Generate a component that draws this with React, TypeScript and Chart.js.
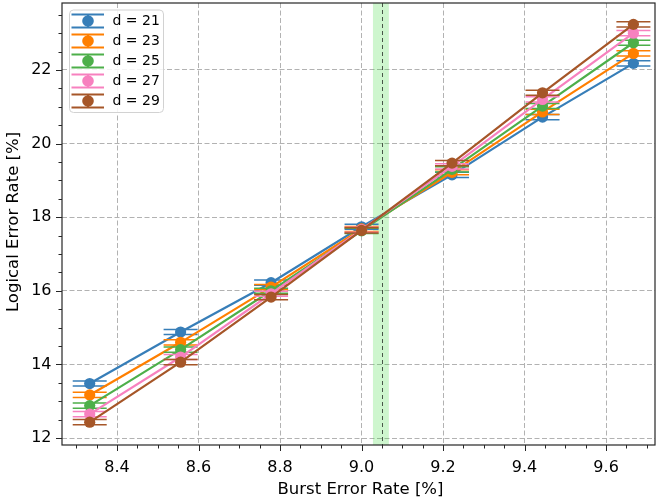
import React, { useEffect, useRef } from "react";
import { Chart, registerables } from "chart.js";

Chart.register(...registerables);

// ---------- data ----------
const burstRates = [8.333, 8.556, 8.778, 9.0, 9.222, 9.444, 9.667];
const distanceLabels = ["d = 21", "d = 23", "d = 25", "d = 27", "d = 29"];
const ler21 = [13.48, 14.88, 16.22, 17.74, 19.15, 20.72, 22.18];
const ler23 = [13.17, 14.6, 16.1, 17.68, 19.22, 20.86, 22.45];
const ler25 = [12.88, 14.4, 16.0, 17.63, 19.3, 21.02, 22.74];
const ler27 = [12.65, 14.2, 15.92, 17.66, 19.38, 21.2, 23.0];
const ler29 = [12.43, 14.06, 15.83, 17.64, 19.47, 21.38, 23.24];
const err21 = [0.07, 0.07, 0.07, 0.07, 0.07, 0.07, 0.07];
const err23 = [0.07, 0.07, 0.07, 0.07, 0.07, 0.07, 0.07];
const err25 = [0.07, 0.07, 0.07, 0.07, 0.07, 0.07, 0.07];
const err27 = [0.07, 0.07, 0.07, 0.07, 0.07, 0.07, 0.07];
const err29 = [0.07, 0.07, 0.07, 0.07, 0.07, 0.07, 0.07];
const seriesColors = ["#377eb8", "#ff7f00", "#4daf4a", "#f781bf", "#a65628"];
const xTickValues = [8.4, 8.6, 8.8, 9.0, 9.2, 9.4, 9.6];
const yTickValues = [12, 14, 16, 18, 20, 22];
const thresholdValue = 9.05;
const thresholdBand = [9.028, 9.067];

const seriesValues = [ler21, ler23, ler25, ler27, ler29];
const seriesErrors = [err21, err23, err25, err27, err29];

const FONT = "'DejaVu Sans', sans-serif";
const X_MIN = 8.265;
const X_MAX = 9.72;
const Y_MIN = 11.81;
const Y_MAX = 23.82;

const decorPlugin = {
  id: "decor",
  beforeDatasetsDraw(chart: any) {
    const { ctx, chartArea: a, scales } = chart;
    const x = scales.x;
    ctx.save();
    const x0 = x.getPixelForValue(thresholdBand[0]);
    const x1 = x.getPixelForValue(thresholdBand[1]);
    ctx.fillStyle = "rgba(60,220,60,0.25)";
    ctx.fillRect(x0, a.top, x1 - x0, a.bottom - a.top);
    const xt = x.getPixelForValue(thresholdValue);
    ctx.strokeStyle = "rgba(0,0,0,0.65)";
    ctx.lineWidth = 1;
    ctx.setLineDash([4, 3]);
    ctx.beginPath();
    ctx.moveTo(Math.round(xt) + 0.5, a.top);
    ctx.lineTo(Math.round(xt) + 0.5, a.bottom);
    ctx.stroke();
    ctx.restore();
  },
  beforeDatasetDraw(chart: any, args: any) {
    const { ctx, scales } = chart;
    const i = args.index;
    const vals = seriesValues[i];
    const errs = seriesErrors[i];
    const color = seriesColors[i];
    ctx.save();
    ctx.strokeStyle = color;
    ctx.lineWidth = 1.5;
    burstRates.forEach((bx, k) => {
      const px = scales.x.getPixelForValue(bx);
      const pTop = scales.y.getPixelForValue(vals[k] + errs[k]);
      const pBot = scales.y.getPixelForValue(vals[k] - errs[k]);
      ctx.beginPath();
      ctx.moveTo(px, pTop);
      ctx.lineTo(px, pBot);
      ctx.moveTo(px - 17, pTop);
      ctx.lineTo(px + 17, pTop);
      ctx.moveTo(px - 17, pBot);
      ctx.lineTo(px + 17, pBot);
      ctx.stroke();
    });
    ctx.restore();
  },
  afterDraw(chart: any) {
    const { ctx, chartArea: a, scales } = chart;
    const x = scales.x;
    const y = scales.y;
    ctx.save();
    // frame
    ctx.strokeStyle = "#262626";
    ctx.lineWidth = 1.2;
    ctx.setLineDash([]);
    ctx.strokeRect(a.left, a.top, a.right - a.left, a.bottom - a.top);
    // ticks
    ctx.lineWidth = 1;
    ctx.beginPath();
    for (let k = 0; k <= 30; k++) {
      const v = 8.25 + k * 0.05;
      if (v < X_MIN || v > X_MAX) continue;
      const major = xTickValues.some((t) => Math.abs(t - v) < 1e-6);
      const px = Math.round(x.getPixelForValue(v)) + 0.5;
      ctx.moveTo(px, a.bottom);
      ctx.lineTo(px, a.bottom + (major ? 6 : 3.5));
    }
    for (let k = 0; k <= 26; k++) {
      const v = 11.5 + k * 0.5;
      if (v < Y_MIN || v > Y_MAX) continue;
      const major = yTickValues.some((t) => Math.abs(t - v) < 1e-6);
      const py = Math.round(y.getPixelForValue(v)) + 0.5;
      ctx.moveTo(a.left, py);
      ctx.lineTo(a.left - (major ? 6 : 3.5), py);
    }
    ctx.stroke();
    // axis titles
    ctx.fillStyle = "#000";
    ctx.font = `16.5px ${FONT}`;
    ctx.textAlign = "center";
    ctx.textBaseline = "middle";
    ctx.fillText("Burst Error Rate [%]", (a.left + a.right) / 2 + 2, 490);
    ctx.save();
    ctx.translate(14, (a.top + a.bottom) / 2 - 2);
    ctx.rotate(-Math.PI / 2);
    ctx.fillText("Logical Error Rate [%]", 0, 0);
    ctx.restore();
    // legend
    const lx = a.left + 7;
    const ly = a.top + 6.5;
    const lw = 94;
    const lh = 102.5;
    ctx.beginPath();
    ctx.roundRect(lx + 0.5, ly + 0.5, lw, lh, 4);
    ctx.fillStyle = "rgba(255,255,255,0.85)";
    ctx.fill();
    ctx.strokeStyle = "#d2d2d2";
    ctx.lineWidth = 1;
    ctx.stroke();
    ctx.font = `14px ${FONT}`;
    ctx.textAlign = "left";
    ctx.textBaseline = "middle";
    distanceLabels.forEach((lab, k) => {
      const cy = ly + 11.5 + k * 20;
      const c = seriesColors[k];
      ctx.strokeStyle = c;
      ctx.lineWidth = 1.8;
      ctx.beginPath();
      ctx.moveTo(lx + 2.5, cy - 6.5);
      ctx.lineTo(lx + 35, cy - 6.5);
      ctx.moveTo(lx + 2.5, cy + 6.5);
      ctx.lineTo(lx + 35, cy + 6.5);
      ctx.moveTo(lx + 19, cy - 6.5);
      ctx.lineTo(lx + 19, cy + 6.5);
      ctx.stroke();
      ctx.fillStyle = c;
      ctx.beginPath();
      ctx.arc(lx + 19, cy, 5.8, 0, Math.PI * 2);
      ctx.fill();
      ctx.fillStyle = "#000";
      ctx.fillText(lab, lx + 43.5, cy + 0.5);
    });
    ctx.restore();
  },
};

export default function App() {
  const canvasRef = useRef<HTMLCanvasElement | null>(null);

  useEffect(() => {
    const canvas = canvasRef.current;
    if (!canvas) return;
    const datasets = seriesValues.map((vals, i) => ({
      label: distanceLabels[i],
      data: burstRates.map((bx, k) => ({ x: bx, y: vals[k] })),
      borderColor: seriesColors[i],
      backgroundColor: seriesColors[i],
      borderWidth: 2.2,
      pointRadius: 5.6,
      pointBorderWidth: 0,
      pointBackgroundColor: seriesColors[i],
      pointHoverRadius: 5.6,
      fill: false,
      tension: 0,
      order: seriesValues.length - 1 - i,
    }));
    const zeroPad = (s: any) => {
      s.paddingTop = 0;
      s.paddingBottom = 0;
      s.paddingLeft = 0;
      s.paddingRight = 0;
    };
    const chart = new Chart(canvas, {
      type: "line",
      data: { datasets },
      plugins: [decorPlugin],
      options: {
        animation: false,
        responsive: false,
        devicePixelRatio: 1,
        layout: { autoPadding: false, padding: { top: 3, right: 1, left: 0, bottom: 0 } },
        plugins: { legend: { display: false }, tooltip: { enabled: false } },
        scales: {
          x: {
            type: "linear",
            min: X_MIN,
            max: X_MAX,
            afterBuildTicks: (s: any) => {
              s.ticks = xTickValues.map((v) => ({ value: v }));
            },
            afterFit: (s: any) => {
              s.height = 59;
              zeroPad(s);
            },
            ticks: {
              autoSkip: false,
              maxRotation: 0,
              padding: 13,
              color: "#000",
              font: { family: FONT, size: 16 },
              callback: (v: any) => Number(v).toFixed(1),
            },
            grid: { color: "rgba(178,178,178,1)", lineWidth: 1, drawTicks: false },
            border: { display: false, dash: [5, 2.5] },
          },
          y: {
            type: "linear",
            min: Y_MIN,
            max: Y_MAX,
            afterBuildTicks: (s: any) => {
              s.ticks = yTickValues.map((v) => ({ value: v }));
            },
            afterFit: (s: any) => {
              s.width = 62;
              zeroPad(s);
            },
            ticks: {
              autoSkip: false,
              padding: 10.5,
              color: "#000",
              font: { family: FONT, size: 16 },
              callback: (v: any) => String(Number(v)),
            },
            grid: { color: "rgba(178,178,178,1)", lineWidth: 1, drawTicks: false },
            border: { display: false, dash: [5, 2.5] },
          },
        },
      },
    });
    return () => chart.destroy();
  }, []);

  return (
    <div style={{ position: "absolute", left: 0, top: 0, width: 656, height: 504, background: "#fff" }}>
      <canvas ref={canvasRef} width={656} height={504} style={{ display: "block" }} />
    </div>
  );
}
